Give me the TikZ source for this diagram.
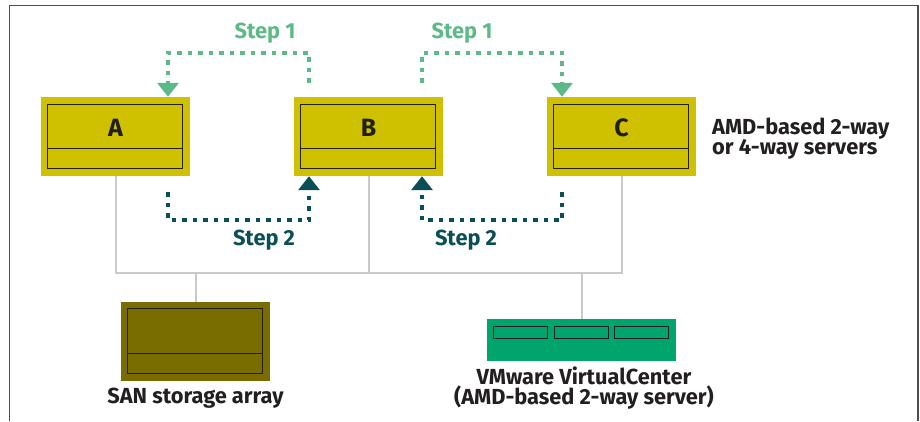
\documentclass[tikz,border=0pt]{standalone}
\usepackage{fontspec}
\setmainfont{Fira Sans}
\usetikzlibrary{arrows.meta}
\definecolor{serveryellow}{HTML}{D0C100}
\definecolor{sanolive}{HTML}{7A6D00}
\definecolor{vcgreen}{HTML}{00A56E}
\definecolor{stepone}{HTML}{5DB987}
\definecolor{steptwo}{HTML}{0A4F55}
\definecolor{busgray}{HTML}{C9C9C9}
\definecolor{inkdark}{HTML}{231F20}

\tikzset{
  unit/.style={draw=none, minimum width=149pt, minimum height=79pt, inner sep=0pt},
  server/.style={unit, fill=serveryellow},
  storage/.style={unit, fill=sanolive},
  inner/.style={draw=inkdark, line width=1.2pt},
  bus/.style={busgray, line width=2pt},
  hop/.style={line width=4.5pt, dash pattern=on 4.5pt off 6pt, -{Triangle[length=14pt,width=21pt]}},
  hopone/.style={hop, stepone},
  hoptwo/.style={hop, steptwo},
  caption/.style={font=\bfseries\fontsize{21.8}{20}\selectfont, text=inkdark, inner sep=0pt}
}

\begin{document}
\begin{tikzpicture}[x=1pt, y=-1pt]
  \useasboundingbox (0,0) rectangle (920,421);
  \draw[inkdark!80, line width=1.2pt] (9.5,421) |- (918,5.5) -- (918,421);

  % servers
  \foreach \n/\x in {A/115.5, B/368.5, C/621.5} {
    \node[server] (\n) at (\x,136.5) {};
    \draw[inner] ([shift={(7pt,-8pt)}]\n.north west) rectangle ([shift={(-8pt,8pt)}]\n.south east);
    \draw[inner] ([shift={(7pt,28pt)}]\n.south west) -- ([shift={(-8pt,28pt)}]\n.south east);
    \node[caption, font=\bfseries\fontsize{25}{25}\selectfont] (\n-name) at (\x,128) {\n};
  }
  \node[caption, anchor=west, align=left] (servers) at (712,138.5) {AMD-based 2-way\\or 4-way servers};

  % storage and management server
  \node[storage] (SAN) at (195.5,341.5) {};
  \draw[inner] ([shift={(7pt,-7pt)}]SAN.north west) rectangle ([shift={(-8pt,8pt)}]SAN.south east);
  \draw[inner] ([shift={(7pt,28pt)}]SAN.south west) -- ([shift={(-8pt,28pt)}]SAN.south east);
  \node[caption] (SAN-label) at (195.5,398) {SAN storage array};

  \node[unit, fill=vcgreen, minimum width=189pt, minimum height=42pt] (VC) at (581.5,340) {};
  \foreach \dx in {7, 68, 128}
    \draw[inner, fill=vcgreen] ([shift={(\dx pt,-8pt)}]VC.north west) rectangle ++(54pt,-12pt);
  \node[caption, align=center] (VC-label) at (584,388) {VMware VirtualCenter\\(AMD-based 2-way server)};

  % network
  \draw[bus] (A.south) -- ++(0,97) -| (C.south);
  \draw[bus] (B.south) -- ++(0,97);
  \draw[bus] (SAN.north) -- ++(0,-29);
  \draw[bus] (VC.north) -- ++(0,-46);

  % migration steps
  \draw[hopone] ([xshift=-59.5pt, yshift=14pt]B.north) -- ++(0,-30) -| ([xshift=52.5pt]A.north);
  \draw[hopone] ([xshift=53.5pt, yshift=14pt]B.north) -- ++(0,-30) -| ([xshift=-59.5pt]C.north);
  \draw[hoptwo] ([xshift=52.5pt, yshift=-16pt]A.south) -- ++(0,28) -| ([xshift=-59.5pt]B.south);
  \draw[hoptwo] ([xshift=-59.5pt, yshift=-16pt]C.south) -- ++(0,28) -| ([xshift=53.5pt]B.south);

  \node[caption, text=stepone] (one-left) at (265,33) {Step 1};
  \node[caption, text=stepone] (one-right) at (462,33) {Step 1};
  \node[caption, text=steptwo] (two-left) at (264,240) {Step 2};
  \node[caption, text=steptwo] (two-right) at (466,240) {Step 2};
\end{tikzpicture}
\end{document}
